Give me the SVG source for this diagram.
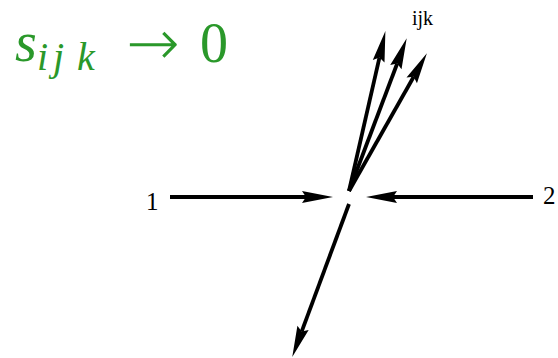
<svg xmlns="http://www.w3.org/2000/svg" width="558" height="358" viewBox="0 0 558 358">
<g id="formula" fill="#2a982a">
<text x="15" y="61" font-size="56" font-family="'Liberation Serif', 'Times New Roman', 'DejaVu Serif', serif" font-style="italic">s</text>
<text y="70" font-size="40" font-family="'Liberation Serif', 'Times New Roman', 'DejaVu Serif', serif" font-style="italic"><tspan x="37">i</tspan><tspan x="53">j</tspan><tspan x="77">k</tspan></text>
<text x="126" y="65" font-size="64" font-family="'DejaVu Sans', sans-serif" font-weight="200">→</text>
<text x="200" y="62" font-size="56" font-family="'Liberation Serif', 'Times New Roman', 'DejaVu Serif', serif">0</text>
</g>
<g id="label-1"><text x="146" y="210" font-size="25" font-family="'Liberation Serif', 'Times New Roman', 'DejaVu Serif', serif">1</text></g>
<g id="label-2"><text x="543" y="204" font-size="25" font-family="'Liberation Serif', 'Times New Roman', 'DejaVu Serif', serif">2</text></g>
<g id="label-ijk"><text x="412" y="25" font-size="20" font-family="'Liberation Serif', 'Times New Roman', 'DejaVu Serif', serif">ijk</text></g>
<g id="connectors">
<g stroke="#000" stroke-width="3.8" fill="none">
<line x1="170" y1="197" x2="306" y2="197"/>
<line x1="533" y1="197" x2="393" y2="197"/>
<line x1="349" y1="191" x2="379.5" y2="57.4"/>
<line x1="349" y1="191" x2="397.2" y2="63.5"/>
<line x1="349" y1="191" x2="413.7" y2="76.8"/>
<line x1="349" y1="204" x2="301.65" y2="331.54"/>
</g>
<g fill="#000" stroke="none">
<polygon points="333,197 302,191 306,197 302,203"/>
<polygon points="366,197 397,191 393,197 397,203"/>
<polygon points="385.4,31.1 384.5,62.6 379.5,57.4 372.8,60.0"/>
<polygon points="406.7,38.2 401.5,69.3 397.2,63.5 390.2,65.1"/>
<polygon points="426.9,53.3 416.96,83.25 413.7,76.8 406.5,77.4"/>
<polygon points="292.26,356.9 308.67,329.88 301.65,331.54 297.41,325.70"/>
</g>
</g>
</svg>
